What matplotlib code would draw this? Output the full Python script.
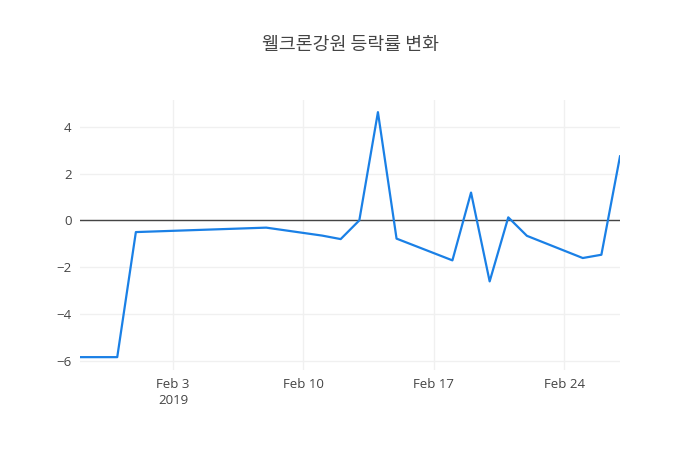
import numpy as np
import pandas as pd
import matplotlib
matplotlib.use('Agg')
import matplotlib.pyplot as plt
import matplotlib.dates as mdates

plt.rcParams['font.family'] = ['Open Sans', 'Noto Sans CJK KR', 'DejaVu Sans']

# 날짜와 등락률
dates = ['2019-01-29', '2019-01-31', '2019-02-01', '2019-02-08', '2019-02-11',
         '2019-02-12', '2019-02-13', '2019-02-14', '2019-02-15', '2019-02-18',
         '2019-02-19', '2019-02-20', '2019-02-21', '2019-02-22', '2019-02-25',
         '2019-02-26', '2019-02-27']
rates = [-5.85, -5.85, -0.5, -0.31, -0.65, -0.8, 0.0, 4.63, -0.78, -1.71,
         1.19, -2.61, 0.13, -0.66, -1.61, -1.47, 2.74]
tick_dates = ['2019-02-03', '2019-02-10', '2019-02-17', '2019-02-24']
tick_labels = ['Feb 3\n2019', 'Feb 10', 'Feb 17', 'Feb 24']
title = '웰크론강원 등락률 변화'

x = pd.to_datetime(dates)

fig = plt.figure(figsize=(7, 4.5), dpi=100)
ax = fig.add_axes([80 / 700, 1 - 370 / 450, 540 / 700, 270 / 450])

ax.plot(x, rates, color='#1a80e6', linewidth=1.6, zorder=3)
ax.axhline(0, color='#444444', linewidth=1.0, zorder=2)

ax.set_xlim(pd.Timestamp('2019-01-29'), pd.Timestamp('2019-02-27'))
ax.set_ylim(-6.4, 5.15)

ax.set_xticks(pd.to_datetime(tick_dates))
ax.set_xticklabels(tick_labels, linespacing=1.3)
ax.set_yticks([-6, -4, -2, 0, 2, 4])
ax.set_yticklabels(['−6', '−4', '−2', '0', '2', '4'])

ax.grid(True, color='#f0f0f0', linewidth=1.0, zorder=0)
for s in ax.spines.values():
    s.set_visible(False)
ax.tick_params(length=0, labelsize=9.5, colors='#444444', pad=6)

fig.suptitle(title, x=0.5, y=1 - 45 / 450, va='center', fontsize=13.2,
             color='#444444', family=['Noto Sans CJK KR', 'DejaVu Sans'])

fig.savefig('out.png', dpi=100)
